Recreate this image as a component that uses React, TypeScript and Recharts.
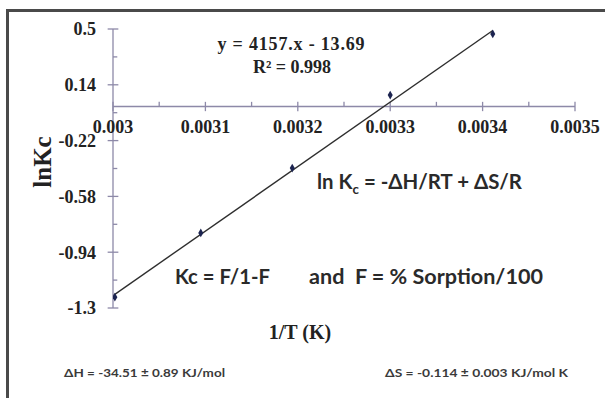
import React from "react";
import {
  ComposedChart,
  Line,
  Scatter,
  XAxis,
  YAxis,
  ZAxis,
  ReferenceLine,
  ReferenceDot,
} from "recharts";

// axis ticks
const xTicks = [0.003, 0.0031, 0.0032, 0.0033, 0.0034, 0.0035];
const xTickLabels = ["0.003", "0.0031", "0.0032", "0.0033", "0.0034", "0.0035"];
const xMinorTicks = [0.00305, 0.00315, 0.00325, 0.00335, 0.00345];
const yTicks = [0.5, 0.14, -0.22, -0.58, -0.94, -1.3];
const yMinorTicks = [0.32, -0.04, -0.4, -0.76, -1.12];

// measured points: 1/T vs ln Kc
const invT = [0.003002, 0.003095, 0.003194, 0.0033, 0.003411];
const lnKc = [-1.23, -0.816, -0.397, 0.074, 0.468];

// linear fit end points
const fitX = [0.003, 0.003411];
const fitY = [-1.22, 0.49];

const points = invT.map((x, i) => ({ x, y: lnKc[i] }));
const fit = fitX.map((x, i) => ({ x, y: fitY[i] }));

const AXIS = "#8d89a8";
const SERIF = "'Liberation Serif', 'Times New Roman', serif";
const SANS = "Lato, 'Open Sans', sans-serif";
const TXT = "#222";

// half-lengths of tick marks in data units
const X_TICK = 0.03; // vertical, on the x axis
const Y_TICK = 0.0000058; // horizontal, on the y axis

export default function App() {
  return (
    <div
      style={{
        position: "absolute",
        left: 0,
        top: 0,
        width: 605,
        height: 398,
        overflow: "hidden",
        background: "#fff",
      }}
    >
      <div
        style={{
          position: "absolute",
          left: 6,
          top: 9,
          width: 700,
          height: 500,
          border: "3px solid #4a4a4a",
        }}
      />
      <div style={{ position: "absolute", left: 0, top: 0 }}>
        <ComposedChart
          width={605}
          height={398}
          margin={{ top: 29, right: 30, bottom: 90, left: 53 }}
        >
          <XAxis
            type="number"
            dataKey="x"
            domain={[0.003, 0.0035]}
            allowDataOverflow
            hide
          />
          <YAxis
            type="number"
            dataKey="y"
            width={60}
            domain={[-1.3, 0.5]}
            ticks={yTicks}
            interval={0}
            allowDataOverflow
            axisLine={{ stroke: AXIS, strokeWidth: 1.3 }}
            tickLine={false}
            tickSize={8}
            tickMargin={9}
            tick={{
              fill: TXT,
              fontSize: 18,
              fontWeight: 700,
              fontFamily: SERIF,
            }}
          />
          <ZAxis range={[22, 22]} />

          {/* x axis drawn through zero */}
          <ReferenceLine
            y={0}
            stroke={AXIS}
            strokeWidth={1.3}
            ifOverflow="visible"
          />
          {xTicks.map((t) => (
            <ReferenceLine
              key={`xt${t}`}
              segment={[
                { x: t, y: -X_TICK },
                { x: t, y: X_TICK },
              ]}
              stroke={AXIS}
              strokeWidth={1.3}
              ifOverflow="visible"
            />
          ))}
          {xMinorTicks.map((t) => (
            <ReferenceLine
              key={`xm${t}`}
              segment={[
                { x: t, y: 0 },
                { x: t, y: X_TICK },
              ]}
              stroke={AXIS}
              strokeWidth={1.3}
              ifOverflow="visible"
            />
          ))}
          {yTicks.map((t) => (
            <ReferenceLine
              key={`yt${t}`}
              segment={[
                { x: 0.003 - Y_TICK, y: t },
                { x: 0.003 + Y_TICK, y: t },
              ]}
              stroke={AXIS}
              strokeWidth={1.3}
              ifOverflow="visible"
            />
          ))}
          {yMinorTicks.map((t) => (
            <ReferenceLine
              key={`ym${t}`}
              segment={[
                { x: 0.003, y: t },
                { x: 0.003 + Y_TICK * 0.8, y: t },
              ]}
              stroke={AXIS}
              strokeWidth={1.3}
              ifOverflow="visible"
            />
          ))}
          {xTicks.map((t, i) => (
            <ReferenceDot
              key={`xl${t}`}
              x={t}
              y={0}
              r={0}
              stroke="none"
              ifOverflow="visible"
              label={{
                value: xTickLabels[i],
                position: "bottom",
                offset: 14,
                fill: TXT,
                fontSize: 18,
                fontWeight: 700,
                fontFamily: SERIF,
              }}
            />
          ))}

          <Line
            data={fit}
            dataKey="y"
            type="linear"
            stroke="#2e2e2e"
            strokeWidth={1.4}
            dot={false}
            activeDot={false}
            isAnimationActive={false}
          />
          <Scatter
            data={points}
            dataKey="y"
            shape="diamond"
            fill="#1c2450"
            legendType="none"
            isAnimationActive={false}
          />
        </ComposedChart>
      </div>

      <svg
        width={605}
        height={398}
        style={{ position: "absolute", left: 0, top: 0, pointerEvents: "none" }}
      >
        <g fontFamily={SERIF} fontWeight={700} fill={TXT}>
          <text x={291} y={50} fontSize={18} textAnchor="middle" textLength={147}>
            y = 4157.x - 13.69
          </text>
          <text x={292} y={73} fontSize={18} textAnchor="middle">
            R² = 0.998
          </text>
          <text
            x={0}
            y={0}
            fontSize={25}
            textAnchor="middle"
            transform="translate(51 162) rotate(-90)"
          >
            lnKc
          </text>
          <text x={300} y={339} fontSize={20} textAnchor="middle">
            1/T (K)
          </text>
        </g>
        <g fontFamily={SANS} fontWeight={700} fill="#2a2a2a">
          <text x={317} y={189} fontSize={20} textLength={205} lengthAdjust="spacingAndGlyphs">
            ln K<tspan fontSize={13} dy={5}>c</tspan>
            <tspan dy={-5}> = -ΔH/RT + ΔS/R</tspan>
          </text>
          <text x={175} y={284} fontSize={20} textLength={95} lengthAdjust="spacingAndGlyphs">
            Kc = F/1-F
          </text>
          <text x={309} y={284} fontSize={20} textLength={234} lengthAdjust="spacingAndGlyphs">
            {"and\u00a0\u00a0F = % Sorption/100"}
          </text>
        </g>
        <g fontFamily={SANS} fontWeight={700} fill="#3a3a3a" fontSize={11}>
          <text x={64} y={377} textLength={161} lengthAdjust="spacingAndGlyphs">
            ΔH = -34.51 ± 0.89 KJ/mol
          </text>
          <text x={385} y={377} textLength={183} lengthAdjust="spacingAndGlyphs">
            ΔS = -0.114 ± 0.003 KJ/mol K
          </text>
        </g>
      </svg>
    </div>
  );
}
